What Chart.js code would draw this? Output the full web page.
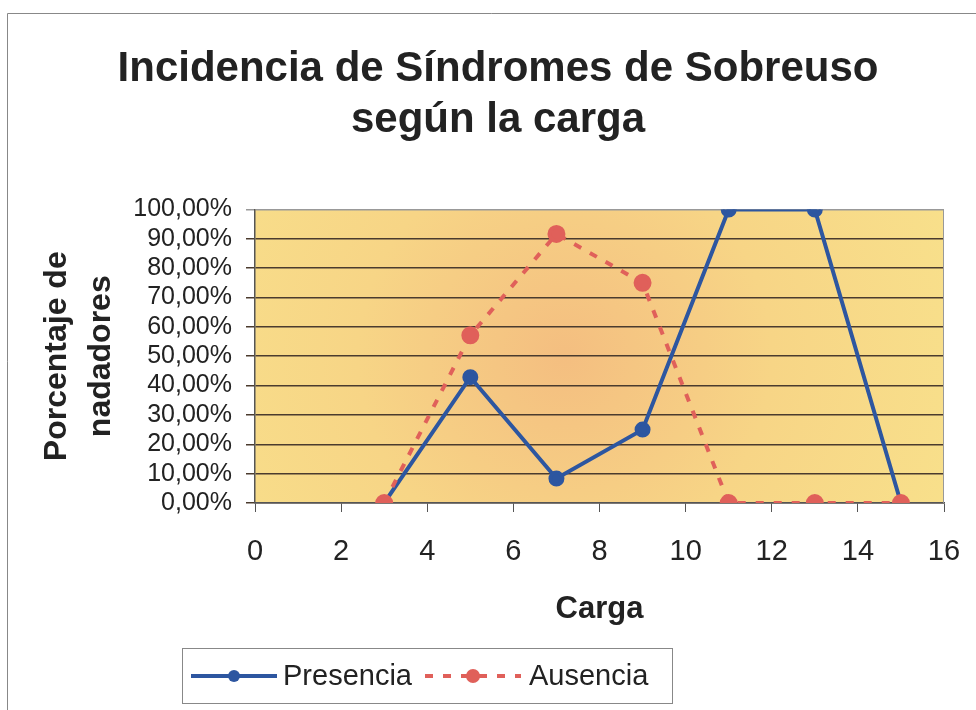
<!DOCTYPE html>
<html><head><meta charset="utf-8">
<script src="https://cdn.jsdelivr.net/npm/chart.js@4/dist/chart.umd.min.js"></script>
<style>html,body{margin:0;padding:0;background:#fff}canvas{display:block}</style>
</head><body>
<canvas id="c" width="976" height="710"></canvas>
<script>
// ---- data ----
const chartTitle = ['Incidencia de Síndromes de Sobreuso', 'según la carga'];
const xAxisTitle = 'Carga';
const yAxisTitle = ['Porcentaje de', 'nadadores'];
const seriesNames = ['Presencia', 'Ausencia'];
const carga = [3, 5, 7, 9, 11, 13, 15];
const presencia = [0, 42.86, 8.33, 25, 100, 100, 0];
const ausencia = [0, 57.14, 91.67, 75, 0, 0, 0];
const xTickValues = [0, 2, 4, 6, 8, 10, 12, 14, 16];
const yTickValues = [0, 10, 20, 30, 40, 50, 60, 70, 80, 90, 100];

const FONT = "'Liberation Sans', Arial, sans-serif";
const BLUE = '#2d56a0';
const RED = '#e0605a';
const PAD_LEFT = 52;

const toPoints = (xs, ys) => xs.map((x, i) => ({x: x, y: ys[i]}));

const bgPlugin = {
  id: 'bg',
  beforeDraw(chart) {
    const {ctx, chartArea: a} = chart;
    ctx.save();
    ctx.fillStyle = '#fff';
    ctx.fillRect(0, 0, chart.width, chart.height);
    const cx = a.left + (a.right - a.left) * 0.45, cy = a.top + (a.bottom - a.top) * 0.5;
    const g = ctx.createRadialGradient(cx, cy, 0, cx, cy, (a.right - a.left) * 0.6);
    g.addColorStop(0, '#f4be80');
    g.addColorStop(0.5, '#f7d586');
    g.addColorStop(1, '#f8e08b');
    ctx.fillStyle = g;
    ctx.fillRect(a.left, a.top, a.right - a.left, a.bottom - a.top);
    // outer frame (top and left)
    ctx.strokeStyle = '#888';
    ctx.lineWidth = 1;
    ctx.beginPath();
    ctx.moveTo(7.5, chart.height); ctx.lineTo(7.5, 13.5); ctx.lineTo(chart.width, 13.5);
    ctx.stroke();
    ctx.restore();
  },
  beforeDatasetsDraw(chart) {
    const {ctx, chartArea: a} = chart;
    ctx.save();
    ctx.strokeStyle = '#999';
    ctx.lineWidth = 1;
    ctx.beginPath();
    ctx.moveTo(a.right - 0.5, a.top); ctx.lineTo(a.right - 0.5, a.bottom);
    ctx.stroke();
    ctx.restore();
  }
};

const legendPlugin = {
  id: 'boxLegend',
  afterDraw(chart) {
    const ctx = chart.ctx;
    ctx.save();
    ctx.fillStyle = '#fff';
    ctx.fillRect(182.5, 648.5, 490, 55);
    ctx.strokeStyle = '#888';
    ctx.lineWidth = 1;
    ctx.strokeRect(182.5, 648.5, 490, 55);
    const cy = 676;
    const items = [{x0: 191, x1: 277, tx: 283}, {x0: 425, x1: 521, tx: 529}];
    chart.data.datasets.forEach((ds, i) => {
      const it = items[i];
      ctx.strokeStyle = ds.borderColor;
      ctx.lineWidth = ds.borderWidth;
      ctx.setLineDash(ds.borderDash || []);
      ctx.beginPath();
      ctx.moveTo(it.x0, cy); ctx.lineTo(it.x1, cy);
      ctx.stroke();
      ctx.setLineDash([]);
      ctx.fillStyle = ds.pointBackgroundColor;
      ctx.beginPath();
      ctx.arc((it.x0 + it.x1) / 2, cy, ds.pointRadius, 0, Math.PI * 2);
      ctx.fill();
      ctx.fillStyle = '#222';
      ctx.font = '29px ' + FONT;
      ctx.textBaseline = 'middle';
      ctx.textAlign = 'left';
      ctx.fillText(ds.label, it.tx, cy + 1);
    });
    ctx.restore();
  }
};

new Chart(document.getElementById('c'), {
  type: 'line',
  data: {
    datasets: [
      {
        label: seriesNames[0],
        data: toPoints(carga, presencia),
        borderColor: BLUE, backgroundColor: BLUE,
        pointBackgroundColor: BLUE, pointBorderColor: BLUE,
        borderWidth: 4, pointRadius: 6, tension: 0, order: 1
      },
      {
        label: seriesNames[1],
        data: toPoints(carga, ausencia),
        borderColor: RED, backgroundColor: RED,
        pointBackgroundColor: RED, pointBorderColor: RED,
        borderWidth: 4, borderDash: [8, 10], pointRadius: 7, tension: 0, order: 0
      }
    ]
  },
  options: {
    responsive: false,
    devicePixelRatio: 1,
    animation: false,
    events: [],
    layout: {padding: {left: PAD_LEFT, right: 32, top: 0, bottom: 70}},
    plugins: {
      legend: {display: false},
      tooltip: {enabled: false},
      title: {
        display: true,
        text: chartTitle,
        color: '#222',
        font: {family: FONT, size: 42, weight: 'bold', lineHeight: 1.22},
        padding: {top: 44, bottom: 63}
      }
    },
    scales: {
      x: {
        type: 'linear', min: 0, max: 16,
        afterBuildTicks: s => { s.ticks = xTickValues.map(v => ({value: v})); },
        ticks: {color: '#222', font: {family: FONT, size: 29, lineHeight: 2.07}, padding: 10, maxRotation: 0, autoSkip: false},
        grid: {drawOnChartArea: false, drawTicks: true, tickLength: 9, color: '#555', lineWidth: 1},
        border: {display: true, color: '#555', width: 1.5},
        title: {display: true, text: xAxisTitle, color: '#222',
          font: {family: FONT, size: 31, weight: 'bold', lineHeight: 1.2}, padding: {top: 0, bottom: 12}},
        afterFit: s => { s.height = 710 - 70 - 503; }
      },
      y: {
        type: 'linear', min: 0, max: 100,
        afterBuildTicks: s => { s.ticks = yTickValues.map(v => ({value: v})); },
        ticks: {color: '#222', font: {family: FONT, size: 25}, padding: 14, autoSkip: false,
          callback: v => v.toFixed(2).replace('.', ',') + '%'},
        grid: {drawTicks: true, tickLength: 9,
          color: c => (c.tick && c.tick.value === 100) ? '#999' : '#4a3b2e', lineWidth: 1.5},
        border: {display: true, color: '#555', width: 1.5},
        title: {display: true, text: yAxisTitle, color: '#222',
          font: {family: FONT, size: 32, weight: 'bold', lineHeight: 1.35}, padding: {top: -16, bottom: 0}},
        afterFit: s => { s.width = 255 - PAD_LEFT; }
      }
    }
  },
  plugins: [bgPlugin, legendPlugin]
});
</script>
</body></html>
